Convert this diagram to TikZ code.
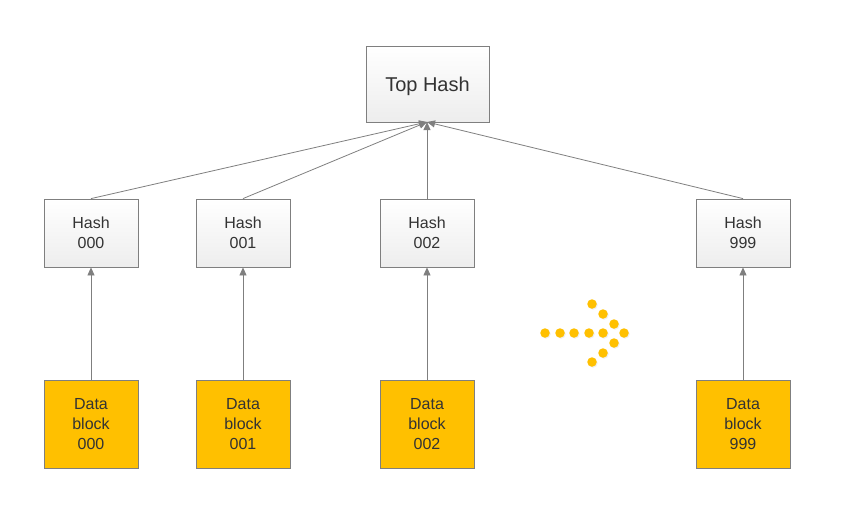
\documentclass[tikz,border=0pt]{standalone}
\usepackage{fontspec}
\setmainfont{Liberation Sans}
\usetikzlibrary{arrows.meta,shadows}
\definecolor{gold}{HTML}{FFC000}
\definecolor{edge}{HTML}{7F7F7F}
\definecolor{txt}{HTML}{333333}
\tikzset{
  hashbox/.style={draw=edge, line width=0.8pt, top color=white, bottom color=black!7,
    minimum width=94pt, minimum height=68pt, inner sep=0pt, align=center,
    font=\fontsize{16pt}{20pt}\selectfont, text=txt,
    drop shadow={shadow xshift=1pt, shadow yshift=-1pt, opacity=0.15}},
  topbox/.style={hashbox, minimum width=123pt, minimum height=76pt,
    font=\fontsize{20pt}{24pt}\selectfont},
  datbox/.style={draw=edge, line width=0.8pt, fill=gold,
    minimum width=94pt, minimum height=88pt, inner sep=0pt, align=center,
    font=\fontsize{16pt}{20pt}\selectfont, text=txt,
    drop shadow={shadow xshift=1pt, shadow yshift=-1pt, opacity=0.15}},
  link/.style={draw=edge, line width=0.8pt, -{Triangle[length=8pt,width=7pt]}},
  dot/.style={circle, fill=gold, minimum size=9.5pt, inner sep=0pt,
    drop shadow={shadow xshift=1pt, shadow yshift=-1pt, opacity=0.12}}
}
\begin{document}
\begin{tikzpicture}[x=1pt,y=-1pt]
\useasboundingbox (0,0) rectangle (846,514);
\node[topbox] (top) at (427.5,84) {\rule{0pt}{19pt}Top Hash};
\node[hashbox] (h0) at (91,233) {Hash\\000};
\node[hashbox] (h1) at (243,233) {Hash\\001};
\node[hashbox] (h2) at (427,233) {Hash\\002};
\node[hashbox] (h9) at (743,233) {Hash\\999};
\node[datbox] (d0) at (91,424) {Data\\block\\000};
\node[datbox] (d1) at (243,424) {Data\\block\\001};
\node[datbox] (d2) at (427,424) {Data\\block\\002};
\node[datbox] (d9) at (743,424) {Data\\block\\999};
\coordinate (tp) at (427,122);
\draw[link] (d0.north) -- (h0.south);
\draw[link] (d1.north) -- (h1.south);
\draw[link] (d2.north) -- (h2.south);
\draw[link] (d9.north) -- (h9.south);
\draw[link] (h0.north) -- (tp);
\draw[link] (h1.north) -- (tp);
\draw[link] (h2.north) -- (tp);
\draw[link] (h9.north) -- (tp);
\foreach \i/\x/\y in {a/545/333,b/560/333,c/574/333,d/589/333,e/603/333,f/624/333,
  g/592/304,h/603/314,i/614/324,j/614/343,k/603/353,l/592/362}
  \node[dot] (dot\i) at (\x,\y) {};
\end{tikzpicture}
\end{document}
